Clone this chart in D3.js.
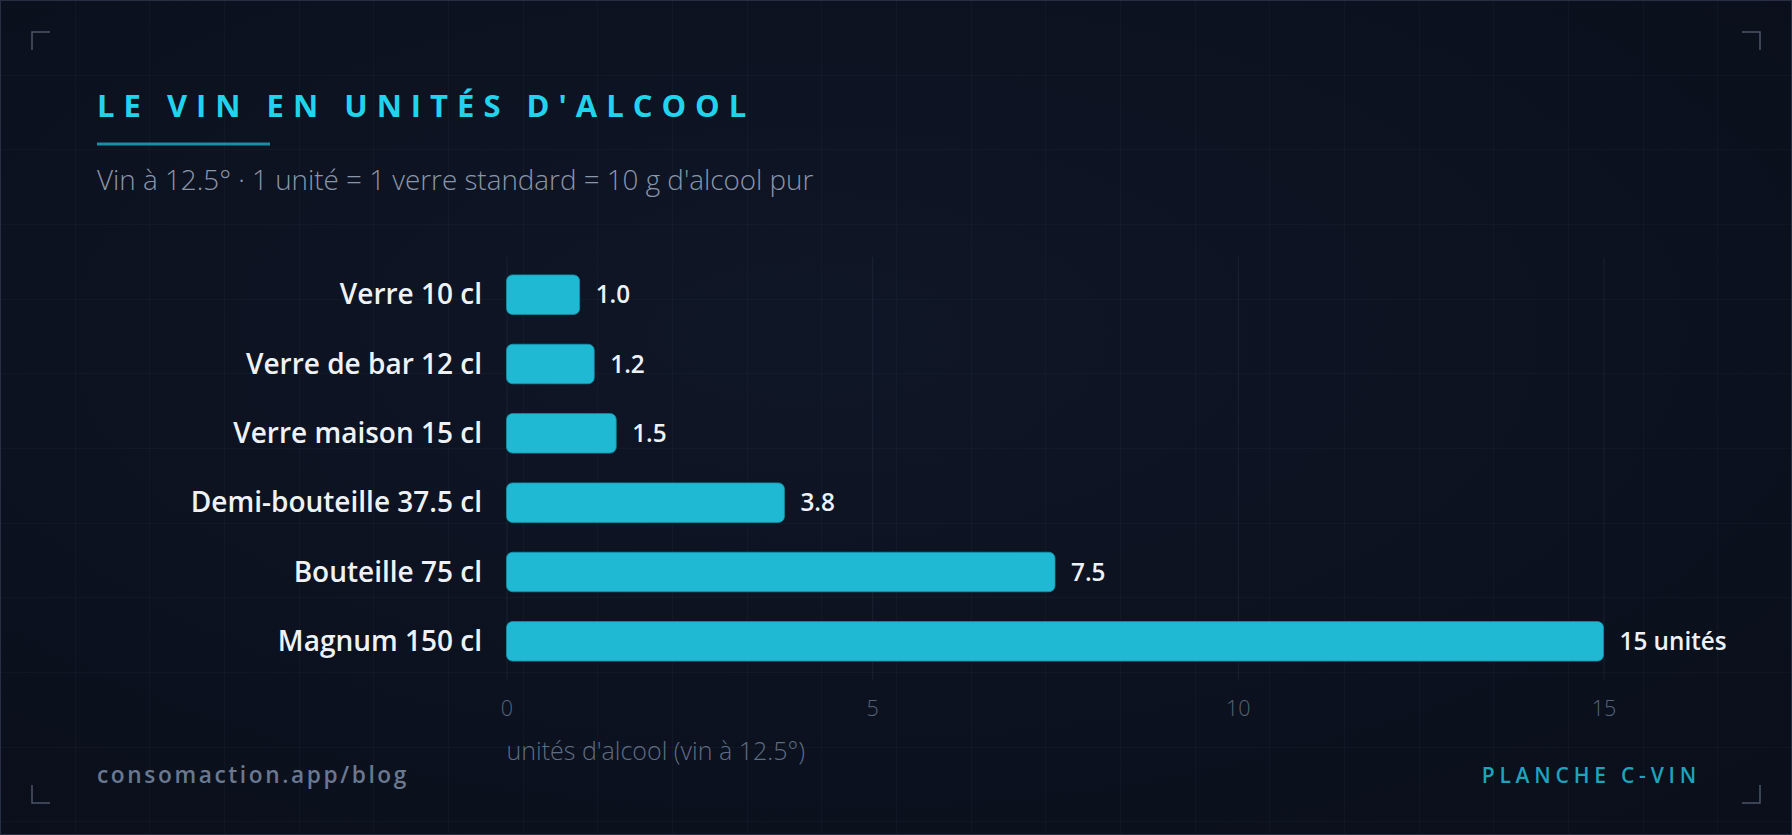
<!DOCTYPE html>
<html>
<head>
<meta charset="utf-8">
<script src="https://cdn.jsdelivr.net/npm/d3@7"></script>
<style>
  html, body { margin: 0; padding: 0; background: #0c1220; }
  svg { display: block; }
  text { font-family: "Open Sans", "Noto Sans", sans-serif; }
</style>
</head>
<body>
<svg id="chart" width="1792" height="835"></svg>
<script>
// ---- data ----
const categories = ["Verre 10 cl", "Verre de bar 12 cl", "Verre maison 15 cl", "Demi-bouteille 37.5 cl", "Bouteille 75 cl", "Magnum 150 cl"];
const values = [1.0, 1.2, 1.5, 3.8, 7.5, 15];
const valueLabels = ["1.0", "1.2", "1.5", "3.8", "7.5", "15 unités"];
const xTicks = [0, 5, 10, 15];
const titleText = "LE VIN EN UNITÉS D'ALCOOL";
const subtitleText = "Vin à 12.5° · 1 unité = 1 verre standard = 10 g d'alcool pur";
const axisTitle = "unités d'alcool (vin à 12.5°)";
const footerLeft = "consomaction.app/blog";
const footerRight = "PLANCHE C-VIN";

const W = 1792, H = 835;
const svg = d3.select("#chart");

// ---- background ----
const defs = svg.append("defs");
const bg = defs.append("radialGradient").attr("id", "bgGrad")
  .attr("cx", "45%").attr("cy", "40%").attr("r", "75%");
bg.append("stop").attr("offset", "0%").attr("stop-color", "#0f1626");
bg.append("stop").attr("offset", "100%").attr("stop-color", "#0a0f1b");
svg.append("rect").attr("width", W).attr("height", H).attr("fill", "url(#bgGrad)");

// faint background grid
const gridStep = W / 24;
const gridG = svg.append("g").attr("stroke", "rgba(148,163,184,0.045)").attr("stroke-width", 1);
gridG.selectAll("line.v").data(d3.range(1, 24)).join("line")
  .attr("x1", d => Math.round(d * gridStep) + 0.5).attr("x2", d => Math.round(d * gridStep) + 0.5)
  .attr("y1", 0).attr("y2", H);
gridG.selectAll("line.h").data(d3.range(1, Math.ceil(H / gridStep))).join("line")
  .attr("y1", d => Math.round(d * gridStep) + 0.5).attr("y2", d => Math.round(d * gridStep) + 0.5)
  .attr("x1", 0).attr("x2", W);

// outer frame
svg.append("rect").attr("x", 0.5).attr("y", 0.5).attr("width", W - 1).attr("height", H - 1)
  .attr("fill", "none").attr("stroke", "#263042").attr("stroke-width", 1);

// corner brackets
const cb = 18, cm = 32, cStroke = "#4b5567";
const corners = [
  `M${cm},${cm + cb} L${cm},${cm} L${cm + cb},${cm}`,
  `M${W - cm - cb},${cm} L${W - cm},${cm} L${W - cm},${cm + cb}`,
  `M${cm},${H - cm - cb} L${cm},${H - cm} L${cm + cb},${H - cm}`,
  `M${W - cm - cb},${H - cm} L${W - cm},${H - cm} L${W - cm},${H - cm - cb}`
];
svg.selectAll("path.corner").data(corners).join("path")
  .attr("d", d => d).attr("fill", "none").attr("stroke", cStroke).attr("stroke-width", 1.5);

// ---- title block ----
svg.append("text").attr("x", 97).attr("y", 116.5)
  .attr("fill", "#22d3ee").attr("font-size", 31).attr("font-weight", 700)
  .attr("letter-spacing", "9px").text(titleText);
svg.append("rect").attr("x", 97).attr("y", 142.5).attr("width", 173).attr("height", 3)
  .attr("fill", "#1a8ea8");
svg.append("text").attr("x", 97).attr("y", 190)
  .attr("fill", "#8a96aa").attr("font-size", 27.8).attr("font-weight", 300)
  .text(subtitleText);

// ---- chart ----
const x = d3.scaleLinear().domain([0, 15]).range([506.5, 1603.5]);
const y = d3.scaleBand().domain(categories).range([260, 676]).paddingInner(0.43).paddingOuter(0.215);

// vertical gridlines at ticks
svg.append("g").selectAll("line").data(xTicks).join("line")
  .attr("x1", d => x(d) + 0.5).attr("x2", d => x(d) + 0.5)
  .attr("y1", 257).attr("y2", 680)
  .attr("stroke", "rgba(148,163,184,0.10)").attr("stroke-width", 1);

// x axis (ticks labels only)
const xAxis = d3.axisBottom(x).tickValues(xTicks).tickSize(0).tickPadding(0).tickFormat(d3.format("d"));
const axG = svg.append("g").attr("transform", "translate(0,701)").call(xAxis);
axG.select(".domain").remove();
axG.selectAll("text").attr("fill", "#56647a").attr("font-size", 21.5).attr("font-weight", 300)
  .attr("font-family", "'Open Sans', sans-serif").attr("dy", "0.71em");

svg.append("text").attr("x", 506.5).attr("y", 760)
  .attr("fill", "#5f6d82").attr("font-size", 25).attr("font-weight", 300)
  .text(axisTitle);

// category labels
const yAxis = d3.axisLeft(y).tickSize(0).tickPadding(0);
const yG = svg.append("g").attr("transform", "translate(482,0)").call(yAxis);
yG.select(".domain").remove();
yG.selectAll("text").attr("fill", "#eef2f7").attr("font-size", 28).attr("font-weight", 600)
  .attr("font-family", "'Open Sans', sans-serif").attr("dy", "0.35em");

// bars
const rows = categories.map((c, i) => ({ c, v: values[i], lbl: valueLabels[i] }));
svg.append("g").selectAll("rect").data(rows).join("rect")
  .attr("x", x(0)).attr("y", d => y(d.c))
  .attr("width", d => x(d.v) - x(0)).attr("height", y.bandwidth())
  .attr("rx", 6).attr("ry", 6)
  .attr("fill", "#20b9d3").attr("stroke", "#1790a8").attr("stroke-width", 0.8);

// value labels
svg.append("g").selectAll("text").data(rows).join("text")
  .attr("x", d => x(d.v) + 16).attr("y", d => y(d.c) + y.bandwidth() / 2)
  .attr("dy", "0.36em")
  .attr("fill", "#eef2f7").attr("font-size", 24.3).attr("font-weight", 600)
  .text(d => d.lbl);

// ---- footer ----
svg.append("text").attr("x", 97).attr("y", 783)
  .attr("fill", "#6a7890").attr("font-size", 22.7).attr("font-weight", 600)
  .attr("letter-spacing", "2.6px").text(footerLeft);
svg.append("text").attr("x", 1701).attr("y", 783).attr("text-anchor", "end")
  .attr("fill", "#1ea3bd").attr("font-size", 21).attr("font-weight", 600)
  .attr("letter-spacing", "4.8px").text(footerRight);
</script>
</body>
</html>
